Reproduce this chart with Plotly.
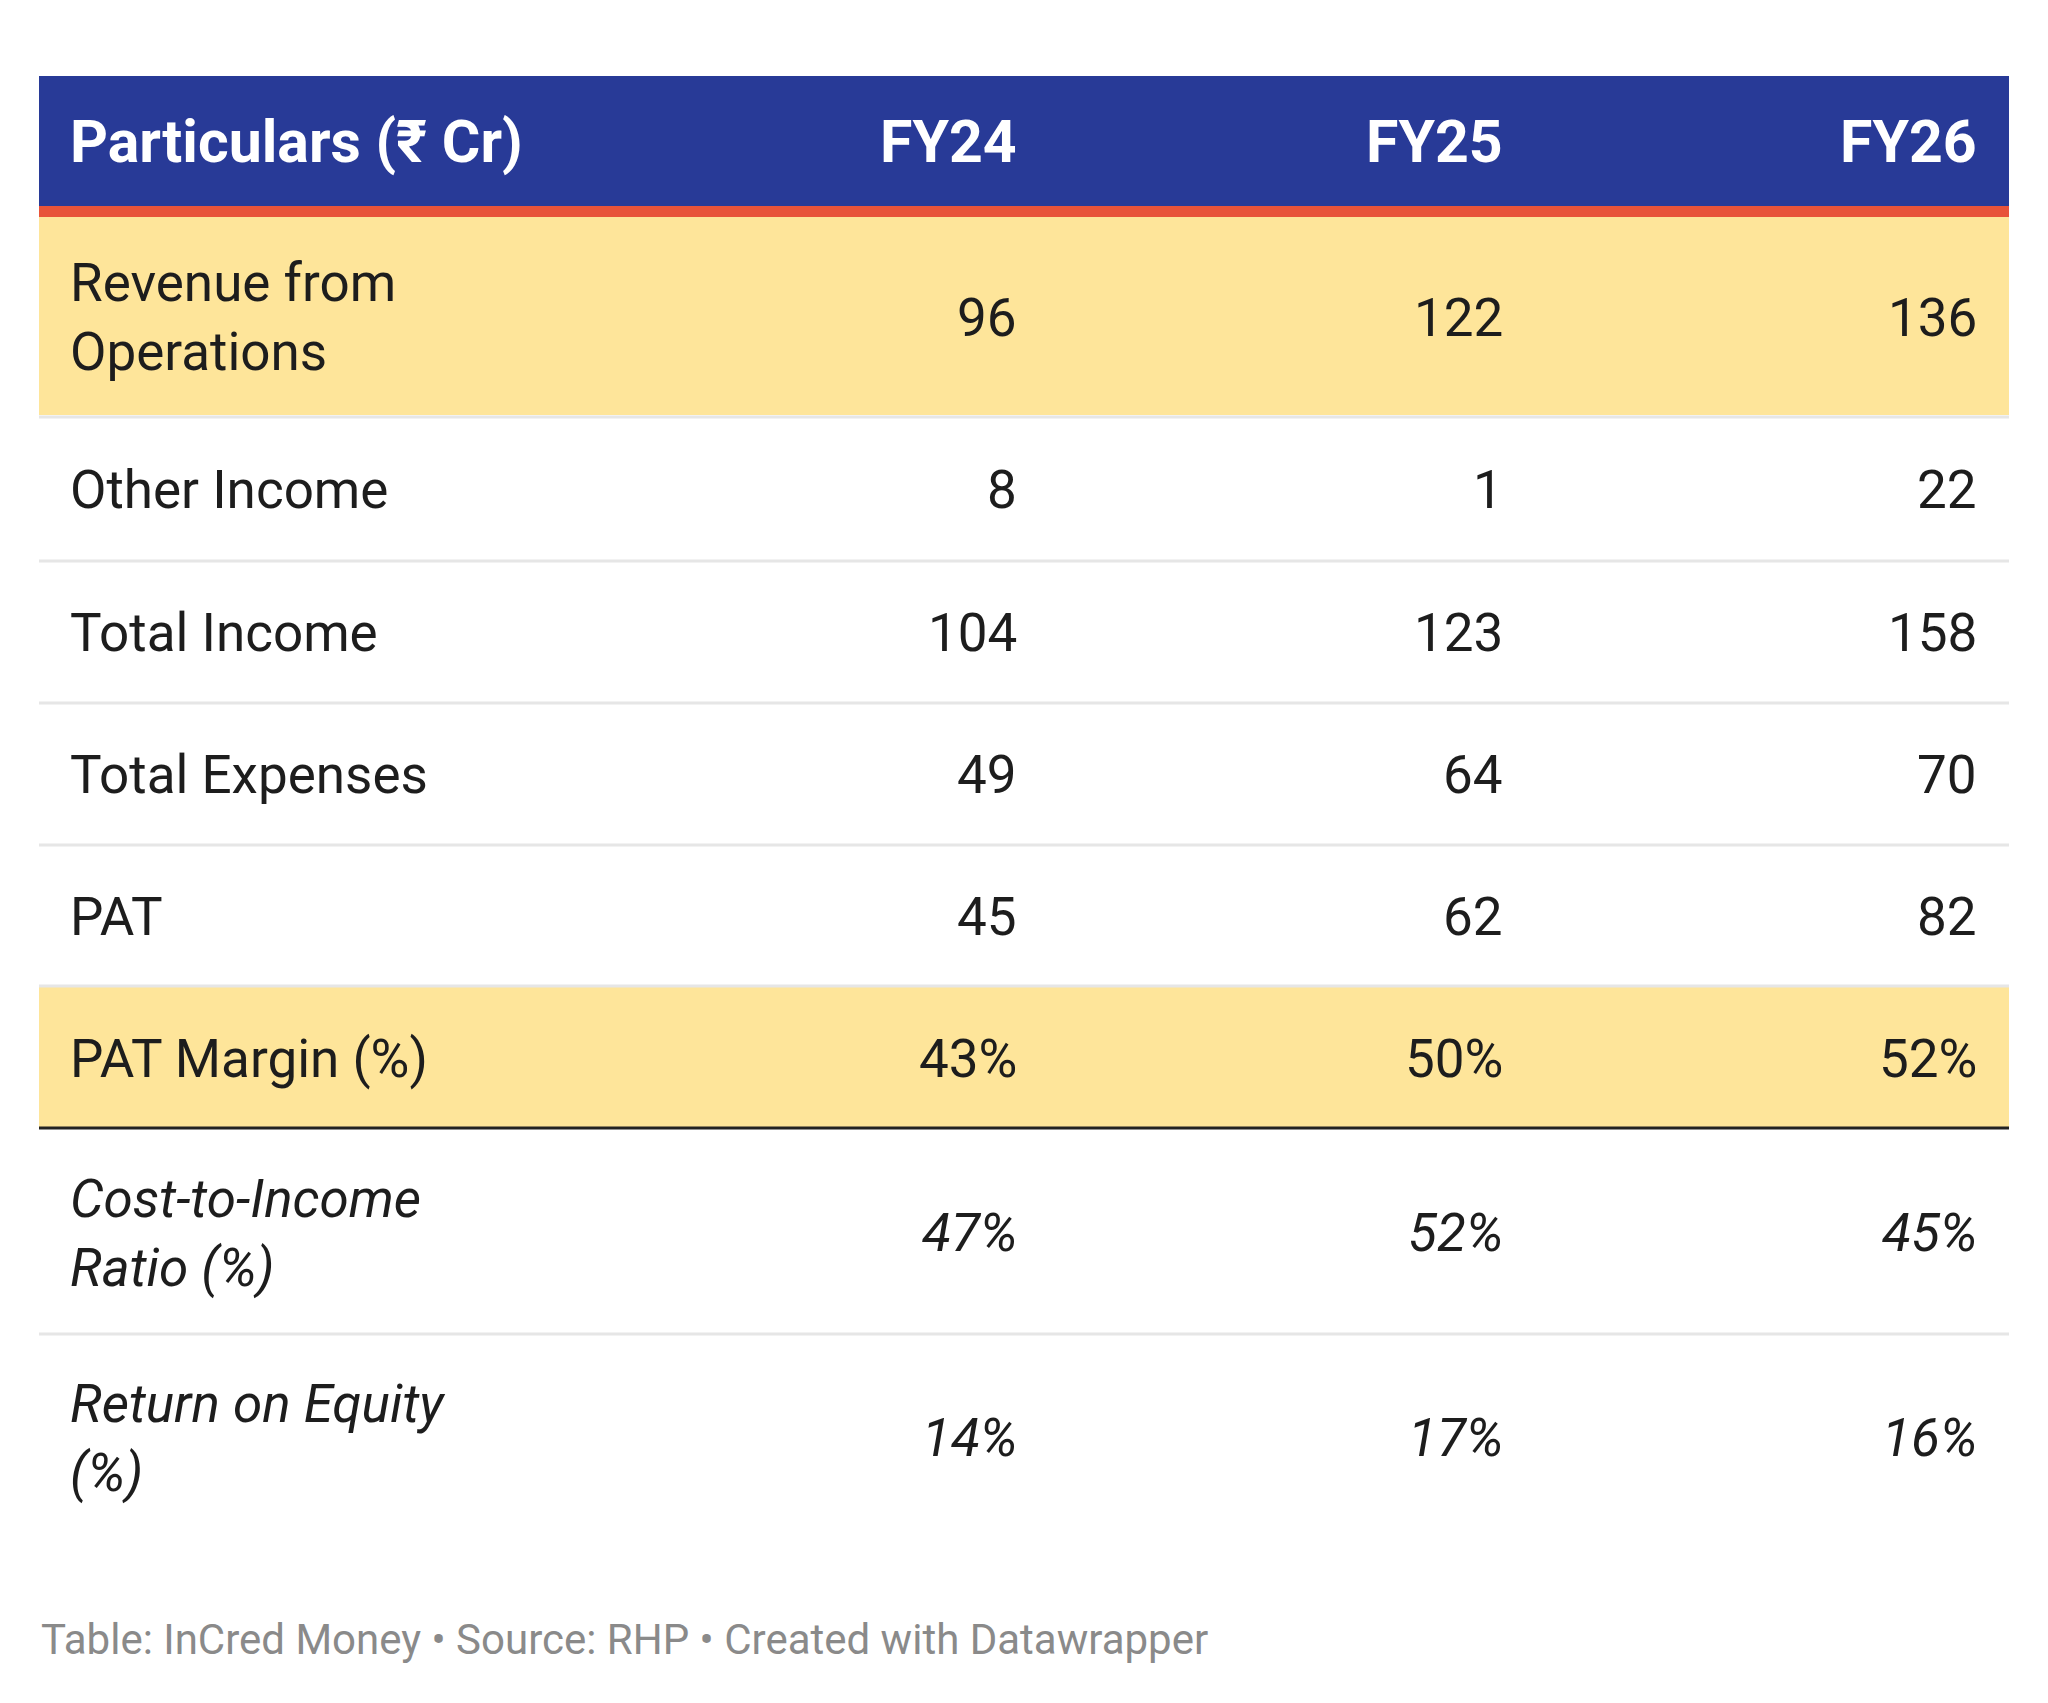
import plotly.graph_objects as go

# table content
header = ["Particulars (₹ Cr)", "FY24", "FY25", "FY26"]
row_labels = ["Revenue from<br>Operations", "Other Income", "Total Income", "Total Expenses",
              "PAT", "PAT Margin (%)", "Cost-to-Income<br>Ratio (%)", "Return on Equity<br>(%)"]
fy24 = ["96", "8", "104", "49", "45", "43%", "47%", "14%"]
fy25 = ["122", "1", "123", "64", "62", "50%", "52%", "17%"]
fy26 = ["136", "22", "158", "70", "82", "52%", "45%", "16%"]
highlight = [True, False, False, False, False, True, False, False]
italic = [False, False, False, False, False, False, True, True]
footer = "Table: InCred Money • Source: RHP • Created with Datawrapper"

W, H = 2048, 1703
left, right = 31, 2001
text_x = 60
col_x = [1011, 1497, 1971]
head_top, head_bot, red_bot = 68, 198, 209
row_edges = [209, 410, 554, 696, 838, 979, 1123, 1327, 1533]

FONT = "Roboto"
fig = go.Figure()
shapes = []
ann = []

shapes.append(dict(type="rect", x0=left, x1=right, y0=head_top, y1=head_bot,
                   fillcolor="#283a97", line_width=0, layer="below"))
shapes.append(dict(type="rect", x0=left, x1=right, y0=head_bot, y1=red_bot,
                   fillcolor="#e8533a", line_width=0, layer="below"))
hy = (head_top + head_bot) / 2
ann.append(dict(x=text_x, y=hy, text="<b>%s</b>" % header[0], xanchor="left",
                font=dict(size=59, color="white", family=FONT)))
for cx, h in zip(col_x, header[1:]):
    ann.append(dict(x=cx, y=hy, text="<b>%s</b>" % h, xanchor="right",
                    font=dict(size=59, color="white", family=FONT)))

for i, lab in enumerate(row_labels):
    y0, y1 = row_edges[i], row_edges[i + 1]
    if highlight[i]:
        shapes.append(dict(type="rect", x0=left, x1=right, y0=y0, y1=y1 - 3,
                           fillcolor="#fee59a", line_width=0, layer="below"))
    if i == 5:
        shapes.append(dict(type="line", x0=left, x1=right, y0=y1 - 3, y1=y1 - 3,
                           line=dict(color="#222222", width=3)))
    elif i < len(row_labels) - 1:
        shapes.append(dict(type="line", x0=left, x1=right, y0=y1 - 1, y1=y1 - 1,
                           line=dict(color="#e6e6e6", width=3)))
    cy = (y0 + y1) / 2
    wrap = (lambda s: "<i>%s</i>" % s) if italic[i] else (lambda s: s)
    ann.append(dict(x=text_x, y=cy, text=wrap(lab), xanchor="left", align="left",
                    font=dict(size=53, color="#1d1d1d", family=FONT)))
    for cx, v in zip(col_x, (fy24[i], fy25[i], fy26[i])):
        ann.append(dict(x=cx, y=cy, text=wrap(v), xanchor="right",
                        font=dict(size=53, color="#1d1d1d", family=FONT)))

ann.append(dict(x=left, y=1631, text=footer, xanchor="left",
                font=dict(size=42, color="#8a8a8a", family=FONT)))
for a in ann:
    a.update(showarrow=False, yanchor="middle", xref="x", yref="y")

fig.update_layout(width=W, height=H, margin=dict(l=0, r=0, t=0, b=0),
                  paper_bgcolor="white", plot_bgcolor="white",
                  shapes=shapes, annotations=ann, showlegend=False,
                  xaxis=dict(range=[0, W], visible=False, fixedrange=True),
                  yaxis=dict(range=[H, 0], visible=False, fixedrange=True))
fig.write_html("out.html")
